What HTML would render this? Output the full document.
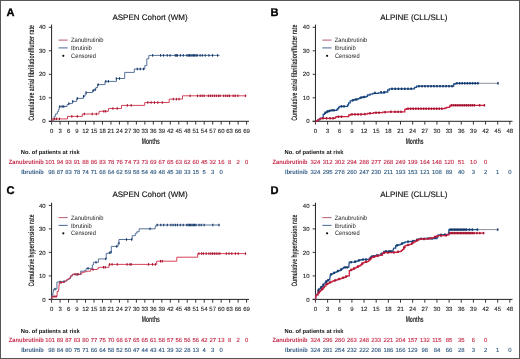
<!DOCTYPE html>
<html><head><meta charset="utf-8"><style>
html,body{margin:0;padding:0;background:#fff;}
body{position:relative;width:520px;height:359px;overflow:hidden;}
.bd{position:absolute;left:0;top:0;width:520px;height:359px;box-sizing:border-box;border:1px solid #575757;}
svg{display:block;font-family:"Liberation Sans", sans-serif;will-change:transform;filter:blur(0.3px);text-rendering:geometricPrecision;}
</style></head><body>
<svg width="520" height="359" viewBox="0 0 520 359">
<rect x="0" y="0" width="520" height="359" fill="#fff"/>
<text x="6.6" y="15.8" font-size="11.1" font-weight="bold" fill="#000" stroke="#000" stroke-width="0.3">A</text>
<text x="150" y="19.9" font-size="8.0" text-anchor="middle" fill="#111" stroke="#111" stroke-width="0.15">ASPEN Cohort (WM)</text>
<line x1="51.6" y1="121.8" x2="51.6" y2="24.6" stroke="#222" stroke-width="1"/>
<line x1="48.8" y1="121.3" x2="249" y2="121.3" stroke="#222" stroke-width="1"/>
<line x1="48.8" y1="121.3" x2="51.6" y2="121.3" stroke="#222" stroke-width="0.9"/>
<text x="45.7" y="123.4" font-size="6.0" text-anchor="end" fill="#222" stroke="#222" stroke-width="0.1">0</text>
<line x1="48.8" y1="97.8" x2="51.6" y2="97.8" stroke="#222" stroke-width="0.9"/>
<text x="45.7" y="99.9" font-size="6.0" text-anchor="end" fill="#222" stroke="#222" stroke-width="0.1">10</text>
<line x1="48.8" y1="74.3" x2="51.6" y2="74.3" stroke="#222" stroke-width="0.9"/>
<text x="45.7" y="76.4" font-size="6.0" text-anchor="end" fill="#222" stroke="#222" stroke-width="0.1">20</text>
<line x1="48.8" y1="50.8" x2="51.6" y2="50.8" stroke="#222" stroke-width="0.9"/>
<text x="45.7" y="52.9" font-size="6.0" text-anchor="end" fill="#222" stroke="#222" stroke-width="0.1">30</text>
<line x1="48.8" y1="27.3" x2="51.6" y2="27.3" stroke="#222" stroke-width="0.9"/>
<text x="45.7" y="29.4" font-size="6.0" text-anchor="end" fill="#222" stroke="#222" stroke-width="0.1">40</text>
<line x1="51.6" y1="121.3" x2="51.6" y2="124.6" stroke="#222" stroke-width="0.9"/>
<text x="51.6" y="132.55" font-size="6.0" text-anchor="middle" fill="#222" stroke="#222" stroke-width="0.1">0</text>
<line x1="60.08" y1="121.3" x2="60.08" y2="124.6" stroke="#222" stroke-width="0.9"/>
<text x="60.08" y="132.55" font-size="6.0" text-anchor="middle" fill="#222" stroke="#222" stroke-width="0.1">3</text>
<line x1="68.56" y1="121.3" x2="68.56" y2="124.6" stroke="#222" stroke-width="0.9"/>
<text x="68.56" y="132.55" font-size="6.0" text-anchor="middle" fill="#222" stroke="#222" stroke-width="0.1">6</text>
<line x1="77.03" y1="121.3" x2="77.03" y2="124.6" stroke="#222" stroke-width="0.9"/>
<text x="77.03" y="132.55" font-size="6.0" text-anchor="middle" fill="#222" stroke="#222" stroke-width="0.1">9</text>
<line x1="85.51" y1="121.3" x2="85.51" y2="124.6" stroke="#222" stroke-width="0.9"/>
<text x="85.51" y="132.55" font-size="6.0" text-anchor="middle" fill="#222" stroke="#222" stroke-width="0.1">12</text>
<line x1="93.99" y1="121.3" x2="93.99" y2="124.6" stroke="#222" stroke-width="0.9"/>
<text x="93.99" y="132.55" font-size="6.0" text-anchor="middle" fill="#222" stroke="#222" stroke-width="0.1">15</text>
<line x1="102.47" y1="121.3" x2="102.47" y2="124.6" stroke="#222" stroke-width="0.9"/>
<text x="102.47" y="132.55" font-size="6.0" text-anchor="middle" fill="#222" stroke="#222" stroke-width="0.1">18</text>
<line x1="110.95" y1="121.3" x2="110.95" y2="124.6" stroke="#222" stroke-width="0.9"/>
<text x="110.95" y="132.55" font-size="6.0" text-anchor="middle" fill="#222" stroke="#222" stroke-width="0.1">21</text>
<line x1="119.43" y1="121.3" x2="119.43" y2="124.6" stroke="#222" stroke-width="0.9"/>
<text x="119.43" y="132.55" font-size="6.0" text-anchor="middle" fill="#222" stroke="#222" stroke-width="0.1">24</text>
<line x1="127.9" y1="121.3" x2="127.9" y2="124.6" stroke="#222" stroke-width="0.9"/>
<text x="127.9" y="132.55" font-size="6.0" text-anchor="middle" fill="#222" stroke="#222" stroke-width="0.1">27</text>
<line x1="136.38" y1="121.3" x2="136.38" y2="124.6" stroke="#222" stroke-width="0.9"/>
<text x="136.38" y="132.55" font-size="6.0" text-anchor="middle" fill="#222" stroke="#222" stroke-width="0.1">30</text>
<line x1="144.86" y1="121.3" x2="144.86" y2="124.6" stroke="#222" stroke-width="0.9"/>
<text x="144.86" y="132.55" font-size="6.0" text-anchor="middle" fill="#222" stroke="#222" stroke-width="0.1">33</text>
<line x1="153.34" y1="121.3" x2="153.34" y2="124.6" stroke="#222" stroke-width="0.9"/>
<text x="153.34" y="132.55" font-size="6.0" text-anchor="middle" fill="#222" stroke="#222" stroke-width="0.1">36</text>
<line x1="161.82" y1="121.3" x2="161.82" y2="124.6" stroke="#222" stroke-width="0.9"/>
<text x="161.82" y="132.55" font-size="6.0" text-anchor="middle" fill="#222" stroke="#222" stroke-width="0.1">39</text>
<line x1="170.3" y1="121.3" x2="170.3" y2="124.6" stroke="#222" stroke-width="0.9"/>
<text x="170.3" y="132.55" font-size="6.0" text-anchor="middle" fill="#222" stroke="#222" stroke-width="0.1">42</text>
<line x1="178.77" y1="121.3" x2="178.77" y2="124.6" stroke="#222" stroke-width="0.9"/>
<text x="178.77" y="132.55" font-size="6.0" text-anchor="middle" fill="#222" stroke="#222" stroke-width="0.1">45</text>
<line x1="187.25" y1="121.3" x2="187.25" y2="124.6" stroke="#222" stroke-width="0.9"/>
<text x="187.25" y="132.55" font-size="6.0" text-anchor="middle" fill="#222" stroke="#222" stroke-width="0.1">48</text>
<line x1="195.73" y1="121.3" x2="195.73" y2="124.6" stroke="#222" stroke-width="0.9"/>
<text x="195.73" y="132.55" font-size="6.0" text-anchor="middle" fill="#222" stroke="#222" stroke-width="0.1">51</text>
<line x1="204.21" y1="121.3" x2="204.21" y2="124.6" stroke="#222" stroke-width="0.9"/>
<text x="204.21" y="132.55" font-size="6.0" text-anchor="middle" fill="#222" stroke="#222" stroke-width="0.1">54</text>
<line x1="212.69" y1="121.3" x2="212.69" y2="124.6" stroke="#222" stroke-width="0.9"/>
<text x="212.69" y="132.55" font-size="6.0" text-anchor="middle" fill="#222" stroke="#222" stroke-width="0.1">57</text>
<line x1="221.17" y1="121.3" x2="221.17" y2="124.6" stroke="#222" stroke-width="0.9"/>
<text x="221.17" y="132.55" font-size="6.0" text-anchor="middle" fill="#222" stroke="#222" stroke-width="0.1">60</text>
<line x1="229.64" y1="121.3" x2="229.64" y2="124.6" stroke="#222" stroke-width="0.9"/>
<text x="229.64" y="132.55" font-size="6.0" text-anchor="middle" fill="#222" stroke="#222" stroke-width="0.1">63</text>
<line x1="238.12" y1="121.3" x2="238.12" y2="124.6" stroke="#222" stroke-width="0.9"/>
<text x="238.12" y="132.55" font-size="6.0" text-anchor="middle" fill="#222" stroke="#222" stroke-width="0.1">66</text>
<line x1="246.6" y1="121.3" x2="246.6" y2="124.6" stroke="#222" stroke-width="0.9"/>
<text x="246.6" y="132.55" font-size="6.0" text-anchor="middle" fill="#222" stroke="#222" stroke-width="0.1">69</text>
<text transform="translate(150.8,143.8) scale(0.615,1)" font-size="8.2" font-weight="bold" text-anchor="middle" fill="#222">Months</text>
<text transform="translate(33.5,72.85) rotate(-90)" font-size="8.0" font-weight="bold" text-anchor="middle" textLength="95.7" lengthAdjust="spacingAndGlyphs" fill="#222">Cumulative atrial fibrillation/flutter rate</text>
<line x1="58.5" y1="40.1" x2="67.7" y2="40.1" stroke="#bd6a7a" stroke-width="1.1"/>
<line x1="58.5" y1="47.9" x2="67.7" y2="47.9" stroke="#5a74a0" stroke-width="1.1"/>
<circle cx="63.3" cy="55.8" r="1.1" fill="#111"/>
<text x="70.9" y="42.3" font-size="6.3" textLength="32.6" lengthAdjust="spacingAndGlyphs" fill="#222">Zanubrutinib</text>
<text x="70.9" y="50.1" font-size="6.3" textLength="21" lengthAdjust="spacingAndGlyphs" fill="#222">Ibrutinib</text>
<text x="71.1" y="57.9" font-size="6.3" textLength="24.8" lengthAdjust="spacingAndGlyphs" fill="#222">Censored</text>
<text x="20.75" y="154.4" font-size="5.8" font-weight="bold" fill="#111">No. of patients at risk</text>
<text x="8.8" y="163.6" font-size="6.2" font-weight="bold" textLength="35" lengthAdjust="spacingAndGlyphs" fill="#c42846">Zanubrutinib</text>
<text x="21.3" y="173.5" font-size="6.2" font-weight="bold" textLength="22.5" lengthAdjust="spacingAndGlyphs" fill="#2d5880">Ibrutinib</text>
<text x="50.1" y="163.6" font-size="5.9" text-anchor="middle" fill="#c42846" stroke="#c42846" stroke-width="0.12">101</text>
<text x="60.08" y="163.6" font-size="5.9" text-anchor="middle" fill="#c42846" stroke="#c42846" stroke-width="0.12">94</text>
<text x="68.56" y="163.6" font-size="5.9" text-anchor="middle" fill="#c42846" stroke="#c42846" stroke-width="0.12">93</text>
<text x="77.03" y="163.6" font-size="5.9" text-anchor="middle" fill="#c42846" stroke="#c42846" stroke-width="0.12">91</text>
<text x="85.51" y="163.6" font-size="5.9" text-anchor="middle" fill="#c42846" stroke="#c42846" stroke-width="0.12">88</text>
<text x="93.99" y="163.6" font-size="5.9" text-anchor="middle" fill="#c42846" stroke="#c42846" stroke-width="0.12">86</text>
<text x="102.47" y="163.6" font-size="5.9" text-anchor="middle" fill="#c42846" stroke="#c42846" stroke-width="0.12">83</text>
<text x="110.95" y="163.6" font-size="5.9" text-anchor="middle" fill="#c42846" stroke="#c42846" stroke-width="0.12">78</text>
<text x="119.43" y="163.6" font-size="5.9" text-anchor="middle" fill="#c42846" stroke="#c42846" stroke-width="0.12">76</text>
<text x="127.9" y="163.6" font-size="5.9" text-anchor="middle" fill="#c42846" stroke="#c42846" stroke-width="0.12">74</text>
<text x="136.38" y="163.6" font-size="5.9" text-anchor="middle" fill="#c42846" stroke="#c42846" stroke-width="0.12">73</text>
<text x="144.86" y="163.6" font-size="5.9" text-anchor="middle" fill="#c42846" stroke="#c42846" stroke-width="0.12">73</text>
<text x="153.34" y="163.6" font-size="5.9" text-anchor="middle" fill="#c42846" stroke="#c42846" stroke-width="0.12">69</text>
<text x="161.82" y="163.6" font-size="5.9" text-anchor="middle" fill="#c42846" stroke="#c42846" stroke-width="0.12">67</text>
<text x="170.3" y="163.6" font-size="5.9" text-anchor="middle" fill="#c42846" stroke="#c42846" stroke-width="0.12">65</text>
<text x="178.77" y="163.6" font-size="5.9" text-anchor="middle" fill="#c42846" stroke="#c42846" stroke-width="0.12">63</text>
<text x="187.25" y="163.6" font-size="5.9" text-anchor="middle" fill="#c42846" stroke="#c42846" stroke-width="0.12">62</text>
<text x="195.73" y="163.6" font-size="5.9" text-anchor="middle" fill="#c42846" stroke="#c42846" stroke-width="0.12">60</text>
<text x="204.21" y="163.6" font-size="5.9" text-anchor="middle" fill="#c42846" stroke="#c42846" stroke-width="0.12">45</text>
<text x="212.69" y="163.6" font-size="5.9" text-anchor="middle" fill="#c42846" stroke="#c42846" stroke-width="0.12">32</text>
<text x="221.17" y="163.6" font-size="5.9" text-anchor="middle" fill="#c42846" stroke="#c42846" stroke-width="0.12">16</text>
<text x="229.64" y="163.6" font-size="5.9" text-anchor="middle" fill="#c42846" stroke="#c42846" stroke-width="0.12">8</text>
<text x="238.12" y="163.6" font-size="5.9" text-anchor="middle" fill="#c42846" stroke="#c42846" stroke-width="0.12">2</text>
<text x="246.6" y="163.6" font-size="5.9" text-anchor="middle" fill="#c42846" stroke="#c42846" stroke-width="0.12">0</text>
<text x="51.6" y="173.5" font-size="5.9" text-anchor="middle" fill="#2d5880" stroke="#2d5880" stroke-width="0.12">98</text>
<text x="60.08" y="173.5" font-size="5.9" text-anchor="middle" fill="#2d5880" stroke="#2d5880" stroke-width="0.12">87</text>
<text x="68.56" y="173.5" font-size="5.9" text-anchor="middle" fill="#2d5880" stroke="#2d5880" stroke-width="0.12">83</text>
<text x="77.03" y="173.5" font-size="5.9" text-anchor="middle" fill="#2d5880" stroke="#2d5880" stroke-width="0.12">78</text>
<text x="85.51" y="173.5" font-size="5.9" text-anchor="middle" fill="#2d5880" stroke="#2d5880" stroke-width="0.12">74</text>
<text x="93.99" y="173.5" font-size="5.9" text-anchor="middle" fill="#2d5880" stroke="#2d5880" stroke-width="0.12">71</text>
<text x="102.47" y="173.5" font-size="5.9" text-anchor="middle" fill="#2d5880" stroke="#2d5880" stroke-width="0.12">68</text>
<text x="110.95" y="173.5" font-size="5.9" text-anchor="middle" fill="#2d5880" stroke="#2d5880" stroke-width="0.12">64</text>
<text x="119.43" y="173.5" font-size="5.9" text-anchor="middle" fill="#2d5880" stroke="#2d5880" stroke-width="0.12">62</text>
<text x="127.9" y="173.5" font-size="5.9" text-anchor="middle" fill="#2d5880" stroke="#2d5880" stroke-width="0.12">59</text>
<text x="136.38" y="173.5" font-size="5.9" text-anchor="middle" fill="#2d5880" stroke="#2d5880" stroke-width="0.12">58</text>
<text x="144.86" y="173.5" font-size="5.9" text-anchor="middle" fill="#2d5880" stroke="#2d5880" stroke-width="0.12">54</text>
<text x="153.34" y="173.5" font-size="5.9" text-anchor="middle" fill="#2d5880" stroke="#2d5880" stroke-width="0.12">49</text>
<text x="161.82" y="173.5" font-size="5.9" text-anchor="middle" fill="#2d5880" stroke="#2d5880" stroke-width="0.12">48</text>
<text x="170.3" y="173.5" font-size="5.9" text-anchor="middle" fill="#2d5880" stroke="#2d5880" stroke-width="0.12">45</text>
<text x="178.77" y="173.5" font-size="5.9" text-anchor="middle" fill="#2d5880" stroke="#2d5880" stroke-width="0.12">38</text>
<text x="187.25" y="173.5" font-size="5.9" text-anchor="middle" fill="#2d5880" stroke="#2d5880" stroke-width="0.12">33</text>
<text x="195.73" y="173.5" font-size="5.9" text-anchor="middle" fill="#2d5880" stroke="#2d5880" stroke-width="0.12">15</text>
<text x="204.21" y="173.5" font-size="5.9" text-anchor="middle" fill="#2d5880" stroke="#2d5880" stroke-width="0.12">5</text>
<text x="212.69" y="173.5" font-size="5.9" text-anchor="middle" fill="#2d5880" stroke="#2d5880" stroke-width="0.12">3</text>
<text x="221.17" y="173.5" font-size="5.9" text-anchor="middle" fill="#2d5880" stroke="#2d5880" stroke-width="0.12">0</text>
<path d="M51.6,121.3 H53.3 V118.6 H54.2 V116.2 H55.6 V113.9 H57.4 V111.6 H58.6 V109.5 H59.2 V106.5 H67 V104.7 H68.5 V103.6 H72.4 V101.4 H76.7 V98.4 H83.3 V96.3 H85 V94.2 H86.3 V92.5 H92.5 V90.5 H94.6 V89.6 H95.9 V87.5 H97.5 V84.6 H105 V81.4 H116.5 V78.5 H124.7 V72.4 H134.3 V69 H144.8 V65.6 H146.8 V58.8 H148.8 V55.4 H219.5" fill="none" stroke="#44638f" stroke-width="0.9" stroke-linejoin="miter"/>
<rect x="59.25" y="105.25" width="1.1" height="2.5" fill="#0f3566"/>
<rect x="61.55" y="105.25" width="1.1" height="2.5" fill="#0f3566"/>
<rect x="63.25" y="105.25" width="1.1" height="2.5" fill="#0f3566"/>
<rect x="68.35" y="102.35" width="1.1" height="2.5" fill="#0f3566"/>
<rect x="72.25" y="100.15" width="1.1" height="2.5" fill="#0f3566"/>
<rect x="76.85" y="97.15" width="1.1" height="2.5" fill="#0f3566"/>
<rect x="83.05" y="95.05" width="1.1" height="2.5" fill="#0f3566"/>
<rect x="85.45" y="91.25" width="1.1" height="2.5" fill="#0f3566"/>
<rect x="92.75" y="89.25" width="1.1" height="2.5" fill="#0f3566"/>
<rect x="94.65" y="88.35" width="1.1" height="2.5" fill="#0f3566"/>
<rect x="97.65" y="83.35" width="1.1" height="2.5" fill="#0f3566"/>
<rect x="105.25" y="80.15" width="1.1" height="2.5" fill="#0f3566"/>
<rect x="107.85" y="80.15" width="1.1" height="2.5" fill="#0f3566"/>
<rect x="115.75" y="77.25" width="1.1" height="2.5" fill="#0f3566"/>
<rect x="118.95" y="77.25" width="1.1" height="2.5" fill="#0f3566"/>
<rect x="136.75" y="67.75" width="1.1" height="2.5" fill="#0f3566"/>
<rect x="139.65" y="67.75" width="1.1" height="2.5" fill="#0f3566"/>
<rect x="143.05" y="67.75" width="1.1" height="2.5" fill="#0f3566"/>
<rect x="152.05" y="54.15" width="1.1" height="2.5" fill="#0f3566"/>
<rect x="160.05" y="54.15" width="1.1" height="2.5" fill="#0f3566"/>
<rect x="162.95" y="54.15" width="1.1" height="2.5" fill="#0f3566"/>
<rect x="166.65" y="54.15" width="1.1" height="2.5" fill="#0f3566"/>
<rect x="169.55" y="54.15" width="1.1" height="2.5" fill="#0f3566"/>
<rect x="174.65" y="54.15" width="1.1" height="2.5" fill="#0f3566"/>
<rect x="175.75" y="54.15" width="1.1" height="2.5" fill="#0f3566"/>
<rect x="176.85" y="54.15" width="1.1" height="2.5" fill="#0f3566"/>
<rect x="179.85" y="54.15" width="1.1" height="2.5" fill="#0f3566"/>
<rect x="182.75" y="54.15" width="1.1" height="2.5" fill="#0f3566"/>
<rect x="186.35" y="54.15" width="1.1" height="2.5" fill="#0f3566"/>
<rect x="187.65" y="54.15" width="1.1" height="2.5" fill="#0f3566"/>
<rect x="188.95" y="54.15" width="1.1" height="2.5" fill="#0f3566"/>
<rect x="190.25" y="54.15" width="1.1" height="2.5" fill="#0f3566"/>
<rect x="191.55" y="54.15" width="1.1" height="2.5" fill="#0f3566"/>
<rect x="192.85" y="54.15" width="1.1" height="2.5" fill="#0f3566"/>
<rect x="194.15" y="54.15" width="1.1" height="2.5" fill="#0f3566"/>
<rect x="195.45" y="54.15" width="1.1" height="2.5" fill="#0f3566"/>
<rect x="196.65" y="54.15" width="1.1" height="2.5" fill="#0f3566"/>
<rect x="199.55" y="54.15" width="1.1" height="2.5" fill="#0f3566"/>
<rect x="201.75" y="54.15" width="1.1" height="2.5" fill="#0f3566"/>
<rect x="204.65" y="54.15" width="1.1" height="2.5" fill="#0f3566"/>
<rect x="208.35" y="54.15" width="1.1" height="2.5" fill="#0f3566"/>
<rect x="211.95" y="54.15" width="1.1" height="2.5" fill="#0f3566"/>
<rect x="217.05" y="54.15" width="1.1" height="2.5" fill="#0f3566"/>
<path d="M51.6,121.3 H52 V118.9 H67.5 V116.4 H82.3 V114 H99 V111.3 H108.4 V108.5 H121.5 V105.4 H144.7 V102.5 H169.2 V99.1 H182.5 V95.8 H246.5" fill="none" stroke="#cf3048" stroke-width="0.9" stroke-linejoin="miter"/>
<rect x="54.15" y="117.65" width="1.1" height="2.5" fill="#a3122f"/>
<rect x="56.05" y="117.65" width="1.1" height="2.5" fill="#a3122f"/>
<rect x="58.85" y="117.65" width="1.1" height="2.5" fill="#a3122f"/>
<rect x="71.25" y="115.15" width="1.1" height="2.5" fill="#a3122f"/>
<rect x="76.75" y="115.15" width="1.1" height="2.5" fill="#a3122f"/>
<rect x="83.75" y="112.75" width="1.1" height="2.5" fill="#a3122f"/>
<rect x="91.65" y="112.75" width="1.1" height="2.5" fill="#a3122f"/>
<rect x="95.75" y="112.75" width="1.1" height="2.5" fill="#a3122f"/>
<rect x="103.25" y="110.05" width="1.1" height="2.5" fill="#a3122f"/>
<rect x="105.15" y="110.05" width="1.1" height="2.5" fill="#a3122f"/>
<rect x="112.35" y="107.25" width="1.1" height="2.5" fill="#a3122f"/>
<rect x="116.65" y="107.25" width="1.1" height="2.5" fill="#a3122f"/>
<rect x="126.75" y="104.15" width="1.1" height="2.5" fill="#a3122f"/>
<rect x="130.65" y="104.15" width="1.1" height="2.5" fill="#a3122f"/>
<rect x="147.25" y="101.25" width="1.1" height="2.5" fill="#a3122f"/>
<rect x="150.55" y="101.25" width="1.1" height="2.5" fill="#a3122f"/>
<rect x="153.95" y="101.25" width="1.1" height="2.5" fill="#a3122f"/>
<rect x="157.25" y="101.25" width="1.1" height="2.5" fill="#a3122f"/>
<rect x="161.75" y="101.25" width="1.1" height="2.5" fill="#a3122f"/>
<rect x="172.75" y="97.85" width="1.1" height="2.5" fill="#a3122f"/>
<rect x="175.85" y="97.85" width="1.1" height="2.5" fill="#a3122f"/>
<rect x="178.45" y="97.85" width="1.1" height="2.5" fill="#a3122f"/>
<rect x="189.55" y="94.55" width="1.1" height="2.5" fill="#a3122f"/>
<rect x="196.95" y="94.55" width="1.1" height="2.5" fill="#a3122f"/>
<rect x="199.65" y="94.55" width="1.1" height="2.5" fill="#a3122f"/>
<rect x="201.65" y="94.55" width="1.1" height="2.5" fill="#a3122f"/>
<rect x="203.65" y="94.55" width="1.1" height="2.5" fill="#a3122f"/>
<rect x="207.75" y="94.55" width="1.1" height="2.5" fill="#a3122f"/>
<rect x="209.75" y="94.55" width="1.1" height="2.5" fill="#a3122f"/>
<rect x="211.75" y="94.55" width="1.1" height="2.5" fill="#a3122f"/>
<rect x="213.75" y="94.55" width="1.1" height="2.5" fill="#a3122f"/>
<rect x="215.75" y="94.55" width="1.1" height="2.5" fill="#a3122f"/>
<rect x="217.85" y="94.55" width="1.1" height="2.5" fill="#a3122f"/>
<rect x="219.55" y="94.55" width="1.1" height="2.5" fill="#a3122f"/>
<rect x="223.15" y="94.55" width="1.1" height="2.5" fill="#a3122f"/>
<rect x="225.25" y="94.55" width="1.1" height="2.5" fill="#a3122f"/>
<rect x="227.25" y="94.55" width="1.1" height="2.5" fill="#a3122f"/>
<rect x="228.95" y="94.55" width="1.1" height="2.5" fill="#a3122f"/>
<rect x="232.65" y="94.55" width="1.1" height="2.5" fill="#a3122f"/>
<rect x="234.65" y="94.55" width="1.1" height="2.5" fill="#a3122f"/>
<rect x="237.35" y="94.55" width="1.1" height="2.5" fill="#a3122f"/>
<rect x="244.75" y="94.55" width="1.1" height="2.5" fill="#a3122f"/>
<text x="270.4" y="15.8" font-size="11.1" font-weight="bold" fill="#000" stroke="#000" stroke-width="0.3">B</text>
<text x="413.8" y="19.9" font-size="8.0" text-anchor="middle" fill="#111" stroke="#111" stroke-width="0.15">ALPINE (CLL/SLL)</text>
<line x1="315.45" y1="121.8" x2="315.45" y2="24.6" stroke="#222" stroke-width="1"/>
<line x1="312.65" y1="121.3" x2="512.5" y2="121.3" stroke="#222" stroke-width="1"/>
<line x1="312.65" y1="121.3" x2="315.45" y2="121.3" stroke="#222" stroke-width="0.9"/>
<text x="309.55" y="123.4" font-size="6.0" text-anchor="end" fill="#222" stroke="#222" stroke-width="0.1">0</text>
<line x1="312.65" y1="97.8" x2="315.45" y2="97.8" stroke="#222" stroke-width="0.9"/>
<text x="309.55" y="99.9" font-size="6.0" text-anchor="end" fill="#222" stroke="#222" stroke-width="0.1">10</text>
<line x1="312.65" y1="74.3" x2="315.45" y2="74.3" stroke="#222" stroke-width="0.9"/>
<text x="309.55" y="76.4" font-size="6.0" text-anchor="end" fill="#222" stroke="#222" stroke-width="0.1">20</text>
<line x1="312.65" y1="50.8" x2="315.45" y2="50.8" stroke="#222" stroke-width="0.9"/>
<text x="309.55" y="52.9" font-size="6.0" text-anchor="end" fill="#222" stroke="#222" stroke-width="0.1">30</text>
<line x1="312.65" y1="27.3" x2="315.45" y2="27.3" stroke="#222" stroke-width="0.9"/>
<text x="309.55" y="29.4" font-size="6.0" text-anchor="end" fill="#222" stroke="#222" stroke-width="0.1">40</text>
<line x1="315.45" y1="121.3" x2="315.45" y2="124.6" stroke="#222" stroke-width="0.9"/>
<text x="315.45" y="132.55" font-size="6.0" text-anchor="middle" fill="#222" stroke="#222" stroke-width="0.1">0</text>
<line x1="327.6" y1="121.3" x2="327.6" y2="124.6" stroke="#222" stroke-width="0.9"/>
<text x="327.6" y="132.55" font-size="6.0" text-anchor="middle" fill="#222" stroke="#222" stroke-width="0.1">3</text>
<line x1="339.75" y1="121.3" x2="339.75" y2="124.6" stroke="#222" stroke-width="0.9"/>
<text x="339.75" y="132.55" font-size="6.0" text-anchor="middle" fill="#222" stroke="#222" stroke-width="0.1">6</text>
<line x1="351.9" y1="121.3" x2="351.9" y2="124.6" stroke="#222" stroke-width="0.9"/>
<text x="351.9" y="132.55" font-size="6.0" text-anchor="middle" fill="#222" stroke="#222" stroke-width="0.1">9</text>
<line x1="364.05" y1="121.3" x2="364.05" y2="124.6" stroke="#222" stroke-width="0.9"/>
<text x="364.05" y="132.55" font-size="6.0" text-anchor="middle" fill="#222" stroke="#222" stroke-width="0.1">12</text>
<line x1="376.2" y1="121.3" x2="376.2" y2="124.6" stroke="#222" stroke-width="0.9"/>
<text x="376.2" y="132.55" font-size="6.0" text-anchor="middle" fill="#222" stroke="#222" stroke-width="0.1">15</text>
<line x1="388.35" y1="121.3" x2="388.35" y2="124.6" stroke="#222" stroke-width="0.9"/>
<text x="388.35" y="132.55" font-size="6.0" text-anchor="middle" fill="#222" stroke="#222" stroke-width="0.1">18</text>
<line x1="400.5" y1="121.3" x2="400.5" y2="124.6" stroke="#222" stroke-width="0.9"/>
<text x="400.5" y="132.55" font-size="6.0" text-anchor="middle" fill="#222" stroke="#222" stroke-width="0.1">21</text>
<line x1="412.65" y1="121.3" x2="412.65" y2="124.6" stroke="#222" stroke-width="0.9"/>
<text x="412.65" y="132.55" font-size="6.0" text-anchor="middle" fill="#222" stroke="#222" stroke-width="0.1">24</text>
<line x1="424.8" y1="121.3" x2="424.8" y2="124.6" stroke="#222" stroke-width="0.9"/>
<text x="424.8" y="132.55" font-size="6.0" text-anchor="middle" fill="#222" stroke="#222" stroke-width="0.1">27</text>
<line x1="436.95" y1="121.3" x2="436.95" y2="124.6" stroke="#222" stroke-width="0.9"/>
<text x="436.95" y="132.55" font-size="6.0" text-anchor="middle" fill="#222" stroke="#222" stroke-width="0.1">30</text>
<line x1="449.1" y1="121.3" x2="449.1" y2="124.6" stroke="#222" stroke-width="0.9"/>
<text x="449.1" y="132.55" font-size="6.0" text-anchor="middle" fill="#222" stroke="#222" stroke-width="0.1">33</text>
<line x1="461.25" y1="121.3" x2="461.25" y2="124.6" stroke="#222" stroke-width="0.9"/>
<text x="461.25" y="132.55" font-size="6.0" text-anchor="middle" fill="#222" stroke="#222" stroke-width="0.1">36</text>
<line x1="473.4" y1="121.3" x2="473.4" y2="124.6" stroke="#222" stroke-width="0.9"/>
<text x="473.4" y="132.55" font-size="6.0" text-anchor="middle" fill="#222" stroke="#222" stroke-width="0.1">39</text>
<line x1="485.55" y1="121.3" x2="485.55" y2="124.6" stroke="#222" stroke-width="0.9"/>
<text x="485.55" y="132.55" font-size="6.0" text-anchor="middle" fill="#222" stroke="#222" stroke-width="0.1">42</text>
<line x1="497.7" y1="121.3" x2="497.7" y2="124.6" stroke="#222" stroke-width="0.9"/>
<text x="497.7" y="132.55" font-size="6.0" text-anchor="middle" fill="#222" stroke="#222" stroke-width="0.1">45</text>
<line x1="509.85" y1="121.3" x2="509.85" y2="124.6" stroke="#222" stroke-width="0.9"/>
<text x="509.85" y="132.55" font-size="6.0" text-anchor="middle" fill="#222" stroke="#222" stroke-width="0.1">48</text>
<text transform="translate(414.6,143.8) scale(0.615,1)" font-size="8.2" font-weight="bold" text-anchor="middle" fill="#222">Months</text>
<text transform="translate(297.3,72.65) rotate(-90)" font-size="8.0" font-weight="bold" text-anchor="middle" textLength="96.1" lengthAdjust="spacingAndGlyphs" fill="#222">Cumulative atrial fibrillation/flutter rate</text>
<line x1="322.3" y1="40.1" x2="331.5" y2="40.1" stroke="#bd6a7a" stroke-width="1.1"/>
<line x1="322.3" y1="47.9" x2="331.5" y2="47.9" stroke="#5a74a0" stroke-width="1.1"/>
<circle cx="327.1" cy="55.8" r="1.1" fill="#111"/>
<text x="334.7" y="42.3" font-size="6.3" textLength="32.6" lengthAdjust="spacingAndGlyphs" fill="#222">Zanubrutinib</text>
<text x="334.7" y="50.1" font-size="6.3" textLength="21" lengthAdjust="spacingAndGlyphs" fill="#222">Ibrutinib</text>
<text x="334.9" y="57.9" font-size="6.3" textLength="24.8" lengthAdjust="spacingAndGlyphs" fill="#222">Censored</text>
<text x="284.55" y="154.4" font-size="5.8" font-weight="bold" fill="#111">No. of patients at risk</text>
<text x="272.6" y="163.6" font-size="6.2" font-weight="bold" textLength="35" lengthAdjust="spacingAndGlyphs" fill="#c42846">Zanubrutinib</text>
<text x="285.1" y="173.5" font-size="6.2" font-weight="bold" textLength="22.5" lengthAdjust="spacingAndGlyphs" fill="#2d5880">Ibrutinib</text>
<text x="315.45" y="163.6" font-size="5.9" text-anchor="middle" fill="#c42846" stroke="#c42846" stroke-width="0.12">324</text>
<text x="327.6" y="163.6" font-size="5.9" text-anchor="middle" fill="#c42846" stroke="#c42846" stroke-width="0.12">312</text>
<text x="339.75" y="163.6" font-size="5.9" text-anchor="middle" fill="#c42846" stroke="#c42846" stroke-width="0.12">302</text>
<text x="351.9" y="163.6" font-size="5.9" text-anchor="middle" fill="#c42846" stroke="#c42846" stroke-width="0.12">294</text>
<text x="364.05" y="163.6" font-size="5.9" text-anchor="middle" fill="#c42846" stroke="#c42846" stroke-width="0.12">288</text>
<text x="376.2" y="163.6" font-size="5.9" text-anchor="middle" fill="#c42846" stroke="#c42846" stroke-width="0.12">277</text>
<text x="388.35" y="163.6" font-size="5.9" text-anchor="middle" fill="#c42846" stroke="#c42846" stroke-width="0.12">268</text>
<text x="400.5" y="163.6" font-size="5.9" text-anchor="middle" fill="#c42846" stroke="#c42846" stroke-width="0.12">249</text>
<text x="412.65" y="163.6" font-size="5.9" text-anchor="middle" fill="#c42846" stroke="#c42846" stroke-width="0.12">199</text>
<text x="424.8" y="163.6" font-size="5.9" text-anchor="middle" fill="#c42846" stroke="#c42846" stroke-width="0.12">164</text>
<text x="436.95" y="163.6" font-size="5.9" text-anchor="middle" fill="#c42846" stroke="#c42846" stroke-width="0.12">148</text>
<text x="449.1" y="163.6" font-size="5.9" text-anchor="middle" fill="#c42846" stroke="#c42846" stroke-width="0.12">120</text>
<text x="461.25" y="163.6" font-size="5.9" text-anchor="middle" fill="#c42846" stroke="#c42846" stroke-width="0.12">51</text>
<text x="473.4" y="163.6" font-size="5.9" text-anchor="middle" fill="#c42846" stroke="#c42846" stroke-width="0.12">10</text>
<text x="485.55" y="163.6" font-size="5.9" text-anchor="middle" fill="#c42846" stroke="#c42846" stroke-width="0.12">0</text>
<text x="315.45" y="173.5" font-size="5.9" text-anchor="middle" fill="#2d5880" stroke="#2d5880" stroke-width="0.12">324</text>
<text x="327.6" y="173.5" font-size="5.9" text-anchor="middle" fill="#2d5880" stroke="#2d5880" stroke-width="0.12">295</text>
<text x="339.75" y="173.5" font-size="5.9" text-anchor="middle" fill="#2d5880" stroke="#2d5880" stroke-width="0.12">278</text>
<text x="351.9" y="173.5" font-size="5.9" text-anchor="middle" fill="#2d5880" stroke="#2d5880" stroke-width="0.12">260</text>
<text x="364.05" y="173.5" font-size="5.9" text-anchor="middle" fill="#2d5880" stroke="#2d5880" stroke-width="0.12">247</text>
<text x="376.2" y="173.5" font-size="5.9" text-anchor="middle" fill="#2d5880" stroke="#2d5880" stroke-width="0.12">230</text>
<text x="388.35" y="173.5" font-size="5.9" text-anchor="middle" fill="#2d5880" stroke="#2d5880" stroke-width="0.12">211</text>
<text x="400.5" y="173.5" font-size="5.9" text-anchor="middle" fill="#2d5880" stroke="#2d5880" stroke-width="0.12">193</text>
<text x="412.65" y="173.5" font-size="5.9" text-anchor="middle" fill="#2d5880" stroke="#2d5880" stroke-width="0.12">153</text>
<text x="424.8" y="173.5" font-size="5.9" text-anchor="middle" fill="#2d5880" stroke="#2d5880" stroke-width="0.12">121</text>
<text x="436.95" y="173.5" font-size="5.9" text-anchor="middle" fill="#2d5880" stroke="#2d5880" stroke-width="0.12">108</text>
<text x="449.1" y="173.5" font-size="5.9" text-anchor="middle" fill="#2d5880" stroke="#2d5880" stroke-width="0.12">89</text>
<text x="461.25" y="173.5" font-size="5.9" text-anchor="middle" fill="#2d5880" stroke="#2d5880" stroke-width="0.12">40</text>
<text x="473.4" y="173.5" font-size="5.9" text-anchor="middle" fill="#2d5880" stroke="#2d5880" stroke-width="0.12">3</text>
<text x="485.55" y="173.5" font-size="5.9" text-anchor="middle" fill="#2d5880" stroke="#2d5880" stroke-width="0.12">2</text>
<text x="497.7" y="173.5" font-size="5.9" text-anchor="middle" fill="#2d5880" stroke="#2d5880" stroke-width="0.12">1</text>
<text x="509.85" y="173.5" font-size="5.9" text-anchor="middle" fill="#2d5880" stroke="#2d5880" stroke-width="0.12">0</text>
<path d="M315.6,121.3 H316.5 V120.6 H317.8 V119.8 H319.2 V119 H320.4 V118.2 H323.2 V114.3 H324.5 V113.4 H325.5 V112.7 H326.8 V111.5 H328.5 V110.9 H330.5 V110.3 H336.8 V109.5 H337.7 V108.5 H338.7 V107.1 H339.8 V106.4 H347.6 V104.8 H348.6 V102.8 H350.2 V100.9 H352.1 V100.2 H354.7 V99.5 H357.9 V98.6 H359.8 V97.6 H362.4 V97 H366.2 V96.3 H367.5 V95 H370 V94.2 H372.8 V93.3 H378.4 V92.9 H384.6 V92 H387.7 V90 H389.3 V88.8 H414.5 V87.3 H416.6 V86.2 H453.7 V84 H455.4 V83.3 H479.4" fill="none" stroke="#1f4f8a" stroke-width="1.3" stroke-linejoin="miter"/>
<line x1="479.4" y1="83.3" x2="498" y2="83.3" stroke="#7d8590" stroke-width="0.9"/>
<rect x="324.45" y="111.5" width="1.5" height="2.4" fill="#0f3566"/>
<rect x="326.75" y="110.3" width="1.5" height="2.4" fill="#0f3566"/>
<rect x="328.75" y="109.7" width="1.5" height="2.4" fill="#0f3566"/>
<rect x="331.25" y="109.1" width="1.5" height="2.4" fill="#0f3566"/>
<rect x="333.25" y="109.1" width="1.5" height="2.4" fill="#0f3566"/>
<rect x="340.75" y="105.2" width="1.5" height="2.4" fill="#0f3566"/>
<rect x="343.25" y="105.2" width="1.5" height="2.4" fill="#0f3566"/>
<rect x="352.25" y="99" width="1.5" height="2.4" fill="#0f3566"/>
<rect x="355.25" y="98.3" width="1.5" height="2.4" fill="#0f3566"/>
<rect x="360.25" y="96.4" width="1.5" height="2.4" fill="#0f3566"/>
<rect x="363.25" y="95.8" width="1.5" height="2.4" fill="#0f3566"/>
<rect x="374.25" y="91.7" width="1.5" height="2.4" fill="#0f3566"/>
<rect x="380.25" y="91" width="1.5" height="2.4" fill="#0f3566"/>
<rect x="383.25" y="91" width="1.5" height="2.4" fill="#0f3566"/>
<rect x="391.25" y="87.6" width="1.5" height="2.4" fill="#0f3566"/>
<rect x="394.45" y="87.6" width="1.5" height="2.4" fill="#0f3566"/>
<rect x="397.65" y="87.6" width="1.5" height="2.4" fill="#0f3566"/>
<rect x="400.85" y="87.6" width="1.5" height="2.4" fill="#0f3566"/>
<rect x="404.05" y="87.6" width="1.5" height="2.4" fill="#0f3566"/>
<rect x="407.25" y="87.6" width="1.5" height="2.4" fill="#0f3566"/>
<rect x="410.45" y="87.6" width="1.5" height="2.4" fill="#0f3566"/>
<rect x="418.25" y="85" width="1.5" height="2.4" fill="#0f3566"/>
<rect x="421.25" y="85" width="1.5" height="2.4" fill="#0f3566"/>
<rect x="424.25" y="85" width="1.5" height="2.4" fill="#0f3566"/>
<rect x="427.25" y="85" width="1.5" height="2.4" fill="#0f3566"/>
<rect x="430.25" y="85" width="1.5" height="2.4" fill="#0f3566"/>
<rect x="433.25" y="85" width="1.5" height="2.4" fill="#0f3566"/>
<rect x="436.25" y="85" width="1.5" height="2.4" fill="#0f3566"/>
<rect x="439.25" y="85" width="1.5" height="2.4" fill="#0f3566"/>
<rect x="442.25" y="85" width="1.5" height="2.4" fill="#0f3566"/>
<rect x="445.25" y="85" width="1.5" height="2.4" fill="#0f3566"/>
<rect x="448.25" y="85" width="1.5" height="2.4" fill="#0f3566"/>
<rect x="451.25" y="85" width="1.5" height="2.4" fill="#0f3566"/>
<rect x="456.25" y="82.1" width="1.5" height="2.4" fill="#0f3566"/>
<rect x="458.85" y="82.1" width="1.5" height="2.4" fill="#0f3566"/>
<rect x="461.45" y="82.1" width="1.5" height="2.4" fill="#0f3566"/>
<rect x="464.05" y="82.1" width="1.5" height="2.4" fill="#0f3566"/>
<rect x="466.65" y="82.1" width="1.5" height="2.4" fill="#0f3566"/>
<rect x="469.25" y="82.1" width="1.5" height="2.4" fill="#0f3566"/>
<rect x="471.85" y="82.1" width="1.5" height="2.4" fill="#0f3566"/>
<rect x="474.45" y="82.1" width="1.5" height="2.4" fill="#0f3566"/>
<rect x="477.05" y="82.1" width="1.5" height="2.4" fill="#0f3566"/>
<rect x="497.25" y="82.1" width="1.5" height="2.4" fill="#0f3566"/>
<path d="M315.6,121.3 H316.5 V120.6 H317.8 V119.9 H319.8 V118.8 H321 V118.3 H335.2 V117.3 H336.1 V116.7 H348.7 V115 H350.4 V114.4 H363.1 V114.1 H367.7 V113.3 H373.5 V112.7 H382.7 V112.1 H388 V111.8 H404.8 V109.3 H406.2 V108.7 H444.9 V108 H446.6 V107.4 H449.6 V106.3 H450.1 V105.3 H484.8" fill="none" stroke="#cc2240" stroke-width="1.3" stroke-linejoin="miter"/>
<rect x="322.25" y="117.1" width="1.5" height="2.4" fill="#a3122f"/>
<rect x="325.75" y="117.1" width="1.5" height="2.4" fill="#a3122f"/>
<rect x="329.25" y="117.1" width="1.5" height="2.4" fill="#a3122f"/>
<rect x="332.25" y="117.1" width="1.5" height="2.4" fill="#a3122f"/>
<rect x="337.75" y="115.5" width="1.5" height="2.4" fill="#a3122f"/>
<rect x="340.75" y="115.5" width="1.5" height="2.4" fill="#a3122f"/>
<rect x="351.25" y="113.2" width="1.5" height="2.4" fill="#a3122f"/>
<rect x="354.25" y="113.2" width="1.5" height="2.4" fill="#a3122f"/>
<rect x="357.25" y="113.2" width="1.5" height="2.4" fill="#a3122f"/>
<rect x="360.25" y="113.2" width="1.5" height="2.4" fill="#a3122f"/>
<rect x="364.25" y="112.9" width="1.5" height="2.4" fill="#a3122f"/>
<rect x="369.25" y="112.1" width="1.5" height="2.4" fill="#a3122f"/>
<rect x="375.25" y="111.5" width="1.5" height="2.4" fill="#a3122f"/>
<rect x="378.25" y="111.5" width="1.5" height="2.4" fill="#a3122f"/>
<rect x="384.25" y="110.9" width="1.5" height="2.4" fill="#a3122f"/>
<rect x="390.25" y="110.6" width="1.5" height="2.4" fill="#a3122f"/>
<rect x="394.25" y="110.6" width="1.5" height="2.4" fill="#a3122f"/>
<rect x="397.25" y="110.6" width="1.5" height="2.4" fill="#a3122f"/>
<rect x="400.25" y="110.6" width="1.5" height="2.4" fill="#a3122f"/>
<rect x="407.25" y="107.5" width="1.5" height="2.4" fill="#a3122f"/>
<rect x="409.85" y="107.5" width="1.5" height="2.4" fill="#a3122f"/>
<rect x="412.45" y="107.5" width="1.5" height="2.4" fill="#a3122f"/>
<rect x="415.05" y="107.5" width="1.5" height="2.4" fill="#a3122f"/>
<rect x="417.65" y="107.5" width="1.5" height="2.4" fill="#a3122f"/>
<rect x="420.25" y="107.5" width="1.5" height="2.4" fill="#a3122f"/>
<rect x="422.85" y="107.5" width="1.5" height="2.4" fill="#a3122f"/>
<rect x="425.45" y="107.5" width="1.5" height="2.4" fill="#a3122f"/>
<rect x="428.05" y="107.5" width="1.5" height="2.4" fill="#a3122f"/>
<rect x="430.65" y="107.5" width="1.5" height="2.4" fill="#a3122f"/>
<rect x="433.25" y="107.5" width="1.5" height="2.4" fill="#a3122f"/>
<rect x="435.85" y="107.5" width="1.5" height="2.4" fill="#a3122f"/>
<rect x="438.45" y="107.5" width="1.5" height="2.4" fill="#a3122f"/>
<rect x="441.05" y="107.5" width="1.5" height="2.4" fill="#a3122f"/>
<rect x="450.75" y="104.1" width="1.5" height="2.4" fill="#a3122f"/>
<rect x="452.65" y="104.1" width="1.5" height="2.4" fill="#a3122f"/>
<rect x="454.55" y="104.1" width="1.5" height="2.4" fill="#a3122f"/>
<rect x="456.45" y="104.1" width="1.5" height="2.4" fill="#a3122f"/>
<rect x="458.35" y="104.1" width="1.5" height="2.4" fill="#a3122f"/>
<rect x="460.25" y="104.1" width="1.5" height="2.4" fill="#a3122f"/>
<rect x="462.15" y="104.1" width="1.5" height="2.4" fill="#a3122f"/>
<rect x="464.05" y="104.1" width="1.5" height="2.4" fill="#a3122f"/>
<rect x="465.95" y="104.1" width="1.5" height="2.4" fill="#a3122f"/>
<rect x="467.85" y="104.1" width="1.5" height="2.4" fill="#a3122f"/>
<rect x="469.75" y="104.1" width="1.5" height="2.4" fill="#a3122f"/>
<rect x="471.65" y="104.1" width="1.5" height="2.4" fill="#a3122f"/>
<rect x="473.55" y="104.1" width="1.5" height="2.4" fill="#a3122f"/>
<rect x="478.85" y="104.1" width="1.5" height="2.4" fill="#a3122f"/>
<rect x="483.65" y="104.1" width="1.5" height="2.4" fill="#a3122f"/>
<text x="6.6" y="193.9" font-size="11.1" font-weight="bold" fill="#000" stroke="#000" stroke-width="0.3">C</text>
<text x="150" y="197.4" font-size="8.0" text-anchor="middle" fill="#111" stroke="#111" stroke-width="0.15">ASPEN Cohort (WM)</text>
<line x1="51.6" y1="299.9" x2="51.6" y2="202.7" stroke="#222" stroke-width="1"/>
<line x1="48.8" y1="299.4" x2="249" y2="299.4" stroke="#222" stroke-width="1"/>
<line x1="48.8" y1="299.4" x2="51.6" y2="299.4" stroke="#222" stroke-width="0.9"/>
<text x="45.7" y="301.5" font-size="6.0" text-anchor="end" fill="#222" stroke="#222" stroke-width="0.1">0</text>
<line x1="48.8" y1="275.9" x2="51.6" y2="275.9" stroke="#222" stroke-width="0.9"/>
<text x="45.7" y="278" font-size="6.0" text-anchor="end" fill="#222" stroke="#222" stroke-width="0.1">10</text>
<line x1="48.8" y1="252.4" x2="51.6" y2="252.4" stroke="#222" stroke-width="0.9"/>
<text x="45.7" y="254.5" font-size="6.0" text-anchor="end" fill="#222" stroke="#222" stroke-width="0.1">20</text>
<line x1="48.8" y1="228.9" x2="51.6" y2="228.9" stroke="#222" stroke-width="0.9"/>
<text x="45.7" y="231" font-size="6.0" text-anchor="end" fill="#222" stroke="#222" stroke-width="0.1">30</text>
<line x1="48.8" y1="205.4" x2="51.6" y2="205.4" stroke="#222" stroke-width="0.9"/>
<text x="45.7" y="207.5" font-size="6.0" text-anchor="end" fill="#222" stroke="#222" stroke-width="0.1">40</text>
<line x1="51.6" y1="299.4" x2="51.6" y2="302.7" stroke="#222" stroke-width="0.9"/>
<text x="51.6" y="310.65" font-size="6.0" text-anchor="middle" fill="#222" stroke="#222" stroke-width="0.1">0</text>
<line x1="60.08" y1="299.4" x2="60.08" y2="302.7" stroke="#222" stroke-width="0.9"/>
<text x="60.08" y="310.65" font-size="6.0" text-anchor="middle" fill="#222" stroke="#222" stroke-width="0.1">3</text>
<line x1="68.56" y1="299.4" x2="68.56" y2="302.7" stroke="#222" stroke-width="0.9"/>
<text x="68.56" y="310.65" font-size="6.0" text-anchor="middle" fill="#222" stroke="#222" stroke-width="0.1">6</text>
<line x1="77.03" y1="299.4" x2="77.03" y2="302.7" stroke="#222" stroke-width="0.9"/>
<text x="77.03" y="310.65" font-size="6.0" text-anchor="middle" fill="#222" stroke="#222" stroke-width="0.1">9</text>
<line x1="85.51" y1="299.4" x2="85.51" y2="302.7" stroke="#222" stroke-width="0.9"/>
<text x="85.51" y="310.65" font-size="6.0" text-anchor="middle" fill="#222" stroke="#222" stroke-width="0.1">12</text>
<line x1="93.99" y1="299.4" x2="93.99" y2="302.7" stroke="#222" stroke-width="0.9"/>
<text x="93.99" y="310.65" font-size="6.0" text-anchor="middle" fill="#222" stroke="#222" stroke-width="0.1">15</text>
<line x1="102.47" y1="299.4" x2="102.47" y2="302.7" stroke="#222" stroke-width="0.9"/>
<text x="102.47" y="310.65" font-size="6.0" text-anchor="middle" fill="#222" stroke="#222" stroke-width="0.1">18</text>
<line x1="110.95" y1="299.4" x2="110.95" y2="302.7" stroke="#222" stroke-width="0.9"/>
<text x="110.95" y="310.65" font-size="6.0" text-anchor="middle" fill="#222" stroke="#222" stroke-width="0.1">21</text>
<line x1="119.43" y1="299.4" x2="119.43" y2="302.7" stroke="#222" stroke-width="0.9"/>
<text x="119.43" y="310.65" font-size="6.0" text-anchor="middle" fill="#222" stroke="#222" stroke-width="0.1">24</text>
<line x1="127.9" y1="299.4" x2="127.9" y2="302.7" stroke="#222" stroke-width="0.9"/>
<text x="127.9" y="310.65" font-size="6.0" text-anchor="middle" fill="#222" stroke="#222" stroke-width="0.1">27</text>
<line x1="136.38" y1="299.4" x2="136.38" y2="302.7" stroke="#222" stroke-width="0.9"/>
<text x="136.38" y="310.65" font-size="6.0" text-anchor="middle" fill="#222" stroke="#222" stroke-width="0.1">30</text>
<line x1="144.86" y1="299.4" x2="144.86" y2="302.7" stroke="#222" stroke-width="0.9"/>
<text x="144.86" y="310.65" font-size="6.0" text-anchor="middle" fill="#222" stroke="#222" stroke-width="0.1">33</text>
<line x1="153.34" y1="299.4" x2="153.34" y2="302.7" stroke="#222" stroke-width="0.9"/>
<text x="153.34" y="310.65" font-size="6.0" text-anchor="middle" fill="#222" stroke="#222" stroke-width="0.1">36</text>
<line x1="161.82" y1="299.4" x2="161.82" y2="302.7" stroke="#222" stroke-width="0.9"/>
<text x="161.82" y="310.65" font-size="6.0" text-anchor="middle" fill="#222" stroke="#222" stroke-width="0.1">39</text>
<line x1="170.3" y1="299.4" x2="170.3" y2="302.7" stroke="#222" stroke-width="0.9"/>
<text x="170.3" y="310.65" font-size="6.0" text-anchor="middle" fill="#222" stroke="#222" stroke-width="0.1">42</text>
<line x1="178.77" y1="299.4" x2="178.77" y2="302.7" stroke="#222" stroke-width="0.9"/>
<text x="178.77" y="310.65" font-size="6.0" text-anchor="middle" fill="#222" stroke="#222" stroke-width="0.1">45</text>
<line x1="187.25" y1="299.4" x2="187.25" y2="302.7" stroke="#222" stroke-width="0.9"/>
<text x="187.25" y="310.65" font-size="6.0" text-anchor="middle" fill="#222" stroke="#222" stroke-width="0.1">48</text>
<line x1="195.73" y1="299.4" x2="195.73" y2="302.7" stroke="#222" stroke-width="0.9"/>
<text x="195.73" y="310.65" font-size="6.0" text-anchor="middle" fill="#222" stroke="#222" stroke-width="0.1">51</text>
<line x1="204.21" y1="299.4" x2="204.21" y2="302.7" stroke="#222" stroke-width="0.9"/>
<text x="204.21" y="310.65" font-size="6.0" text-anchor="middle" fill="#222" stroke="#222" stroke-width="0.1">54</text>
<line x1="212.69" y1="299.4" x2="212.69" y2="302.7" stroke="#222" stroke-width="0.9"/>
<text x="212.69" y="310.65" font-size="6.0" text-anchor="middle" fill="#222" stroke="#222" stroke-width="0.1">57</text>
<line x1="221.17" y1="299.4" x2="221.17" y2="302.7" stroke="#222" stroke-width="0.9"/>
<text x="221.17" y="310.65" font-size="6.0" text-anchor="middle" fill="#222" stroke="#222" stroke-width="0.1">60</text>
<line x1="229.64" y1="299.4" x2="229.64" y2="302.7" stroke="#222" stroke-width="0.9"/>
<text x="229.64" y="310.65" font-size="6.0" text-anchor="middle" fill="#222" stroke="#222" stroke-width="0.1">63</text>
<line x1="238.12" y1="299.4" x2="238.12" y2="302.7" stroke="#222" stroke-width="0.9"/>
<text x="238.12" y="310.65" font-size="6.0" text-anchor="middle" fill="#222" stroke="#222" stroke-width="0.1">66</text>
<line x1="246.6" y1="299.4" x2="246.6" y2="302.7" stroke="#222" stroke-width="0.9"/>
<text x="246.6" y="310.65" font-size="6.0" text-anchor="middle" fill="#222" stroke="#222" stroke-width="0.1">69</text>
<text transform="translate(150.8,321.9) scale(0.615,1)" font-size="8.2" font-weight="bold" text-anchor="middle" fill="#222">Months</text>
<text transform="translate(33.5,250.45) rotate(-90)" font-size="8.0" font-weight="bold" text-anchor="middle" textLength="71.9" lengthAdjust="spacingAndGlyphs" fill="#222">Cumulative hypertension rate</text>
<line x1="58.5" y1="217.6" x2="67.7" y2="217.6" stroke="#bd6a7a" stroke-width="1.1"/>
<line x1="58.5" y1="225.4" x2="67.7" y2="225.4" stroke="#5a74a0" stroke-width="1.1"/>
<circle cx="63.3" cy="233.3" r="1.1" fill="#111"/>
<text x="70.9" y="219.8" font-size="6.3" textLength="32.6" lengthAdjust="spacingAndGlyphs" fill="#222">Zanubrutinib</text>
<text x="70.9" y="227.6" font-size="6.3" textLength="21" lengthAdjust="spacingAndGlyphs" fill="#222">Ibrutinib</text>
<text x="71.1" y="235.4" font-size="6.3" textLength="24.8" lengthAdjust="spacingAndGlyphs" fill="#222">Censored</text>
<text x="20.75" y="332.5" font-size="5.8" font-weight="bold" fill="#111">No. of patients at risk</text>
<text x="8.8" y="341.7" font-size="6.2" font-weight="bold" textLength="35" lengthAdjust="spacingAndGlyphs" fill="#c42846">Zanubrutinib</text>
<text x="21.3" y="351.6" font-size="6.2" font-weight="bold" textLength="22.5" lengthAdjust="spacingAndGlyphs" fill="#2d5880">Ibrutinib</text>
<text x="50.1" y="341.7" font-size="5.9" text-anchor="middle" fill="#c42846" stroke="#c42846" stroke-width="0.12">101</text>
<text x="60.08" y="341.7" font-size="5.9" text-anchor="middle" fill="#c42846" stroke="#c42846" stroke-width="0.12">89</text>
<text x="68.56" y="341.7" font-size="5.9" text-anchor="middle" fill="#c42846" stroke="#c42846" stroke-width="0.12">87</text>
<text x="77.03" y="341.7" font-size="5.9" text-anchor="middle" fill="#c42846" stroke="#c42846" stroke-width="0.12">83</text>
<text x="85.51" y="341.7" font-size="5.9" text-anchor="middle" fill="#c42846" stroke="#c42846" stroke-width="0.12">80</text>
<text x="93.99" y="341.7" font-size="5.9" text-anchor="middle" fill="#c42846" stroke="#c42846" stroke-width="0.12">77</text>
<text x="102.47" y="341.7" font-size="5.9" text-anchor="middle" fill="#c42846" stroke="#c42846" stroke-width="0.12">75</text>
<text x="110.95" y="341.7" font-size="5.9" text-anchor="middle" fill="#c42846" stroke="#c42846" stroke-width="0.12">70</text>
<text x="119.43" y="341.7" font-size="5.9" text-anchor="middle" fill="#c42846" stroke="#c42846" stroke-width="0.12">68</text>
<text x="127.9" y="341.7" font-size="5.9" text-anchor="middle" fill="#c42846" stroke="#c42846" stroke-width="0.12">67</text>
<text x="136.38" y="341.7" font-size="5.9" text-anchor="middle" fill="#c42846" stroke="#c42846" stroke-width="0.12">65</text>
<text x="144.86" y="341.7" font-size="5.9" text-anchor="middle" fill="#c42846" stroke="#c42846" stroke-width="0.12">65</text>
<text x="153.34" y="341.7" font-size="5.9" text-anchor="middle" fill="#c42846" stroke="#c42846" stroke-width="0.12">61</text>
<text x="161.82" y="341.7" font-size="5.9" text-anchor="middle" fill="#c42846" stroke="#c42846" stroke-width="0.12">58</text>
<text x="170.3" y="341.7" font-size="5.9" text-anchor="middle" fill="#c42846" stroke="#c42846" stroke-width="0.12">57</text>
<text x="178.77" y="341.7" font-size="5.9" text-anchor="middle" fill="#c42846" stroke="#c42846" stroke-width="0.12">56</text>
<text x="187.25" y="341.7" font-size="5.9" text-anchor="middle" fill="#c42846" stroke="#c42846" stroke-width="0.12">56</text>
<text x="195.73" y="341.7" font-size="5.9" text-anchor="middle" fill="#c42846" stroke="#c42846" stroke-width="0.12">56</text>
<text x="204.21" y="341.7" font-size="5.9" text-anchor="middle" fill="#c42846" stroke="#c42846" stroke-width="0.12">42</text>
<text x="212.69" y="341.7" font-size="5.9" text-anchor="middle" fill="#c42846" stroke="#c42846" stroke-width="0.12">27</text>
<text x="221.17" y="341.7" font-size="5.9" text-anchor="middle" fill="#c42846" stroke="#c42846" stroke-width="0.12">13</text>
<text x="229.64" y="341.7" font-size="5.9" text-anchor="middle" fill="#c42846" stroke="#c42846" stroke-width="0.12">8</text>
<text x="238.12" y="341.7" font-size="5.9" text-anchor="middle" fill="#c42846" stroke="#c42846" stroke-width="0.12">2</text>
<text x="246.6" y="341.7" font-size="5.9" text-anchor="middle" fill="#c42846" stroke="#c42846" stroke-width="0.12">0</text>
<text x="51.6" y="351.6" font-size="5.9" text-anchor="middle" fill="#2d5880" stroke="#2d5880" stroke-width="0.12">98</text>
<text x="60.08" y="351.6" font-size="5.9" text-anchor="middle" fill="#2d5880" stroke="#2d5880" stroke-width="0.12">84</text>
<text x="68.56" y="351.6" font-size="5.9" text-anchor="middle" fill="#2d5880" stroke="#2d5880" stroke-width="0.12">80</text>
<text x="77.03" y="351.6" font-size="5.9" text-anchor="middle" fill="#2d5880" stroke="#2d5880" stroke-width="0.12">75</text>
<text x="85.51" y="351.6" font-size="5.9" text-anchor="middle" fill="#2d5880" stroke="#2d5880" stroke-width="0.12">71</text>
<text x="93.99" y="351.6" font-size="5.9" text-anchor="middle" fill="#2d5880" stroke="#2d5880" stroke-width="0.12">66</text>
<text x="102.47" y="351.6" font-size="5.9" text-anchor="middle" fill="#2d5880" stroke="#2d5880" stroke-width="0.12">64</text>
<text x="110.95" y="351.6" font-size="5.9" text-anchor="middle" fill="#2d5880" stroke="#2d5880" stroke-width="0.12">58</text>
<text x="119.43" y="351.6" font-size="5.9" text-anchor="middle" fill="#2d5880" stroke="#2d5880" stroke-width="0.12">52</text>
<text x="127.9" y="351.6" font-size="5.9" text-anchor="middle" fill="#2d5880" stroke="#2d5880" stroke-width="0.12">50</text>
<text x="136.38" y="351.6" font-size="5.9" text-anchor="middle" fill="#2d5880" stroke="#2d5880" stroke-width="0.12">47</text>
<text x="144.86" y="351.6" font-size="5.9" text-anchor="middle" fill="#2d5880" stroke="#2d5880" stroke-width="0.12">44</text>
<text x="153.34" y="351.6" font-size="5.9" text-anchor="middle" fill="#2d5880" stroke="#2d5880" stroke-width="0.12">43</text>
<text x="161.82" y="351.6" font-size="5.9" text-anchor="middle" fill="#2d5880" stroke="#2d5880" stroke-width="0.12">41</text>
<text x="170.3" y="351.6" font-size="5.9" text-anchor="middle" fill="#2d5880" stroke="#2d5880" stroke-width="0.12">39</text>
<text x="178.77" y="351.6" font-size="5.9" text-anchor="middle" fill="#2d5880" stroke="#2d5880" stroke-width="0.12">32</text>
<text x="187.25" y="351.6" font-size="5.9" text-anchor="middle" fill="#2d5880" stroke="#2d5880" stroke-width="0.12">28</text>
<text x="195.73" y="351.6" font-size="5.9" text-anchor="middle" fill="#2d5880" stroke="#2d5880" stroke-width="0.12">13</text>
<text x="204.21" y="351.6" font-size="5.9" text-anchor="middle" fill="#2d5880" stroke="#2d5880" stroke-width="0.12">4</text>
<text x="212.69" y="351.6" font-size="5.9" text-anchor="middle" fill="#2d5880" stroke="#2d5880" stroke-width="0.12">3</text>
<text x="221.17" y="351.6" font-size="5.9" text-anchor="middle" fill="#2d5880" stroke="#2d5880" stroke-width="0.12">0</text>
<path d="M51.6,299.4 H51.8 V298.5 H52.2 V294.5 H53.1 V291.4 H53.6 V289.1 H56.9 V282 H62 V281.6 H66 V280.2 H67.8 V279.3 H69.1 V278.5 H70.5 V276.2 H72.3 V274.5 H80.6 V271.2 H84.5 V270.6 H86.1 V268.4 H92.3 V265 H93.4 V262.3 H98.4 V258.9 H106.2 V253.4 H108.4 V252.8 H110.1 V252.2 H111.3 V246.4 H118 V243.3 H118.9 V239.5 H132.2 V235.7 H135.3 V233.4 H136.8 V231.8 H139.1 V228.8 H155.2 V226.5 H155.9 V225 H219.7" fill="none" stroke="#44638f" stroke-width="0.9" stroke-linejoin="miter"/>
<rect x="54.45" y="287.85" width="1.1" height="2.5" fill="#0f3566"/>
<rect x="59.45" y="280.75" width="1.1" height="2.5" fill="#0f3566"/>
<rect x="63.45" y="280.35" width="1.1" height="2.5" fill="#0f3566"/>
<rect x="76.45" y="273.25" width="1.1" height="2.5" fill="#0f3566"/>
<rect x="87.45" y="267.15" width="1.1" height="2.5" fill="#0f3566"/>
<rect x="95.45" y="261.05" width="1.1" height="2.5" fill="#0f3566"/>
<rect x="105.25" y="257.65" width="1.1" height="2.5" fill="#0f3566"/>
<rect x="109.25" y="251.55" width="1.1" height="2.5" fill="#0f3566"/>
<rect x="110.45" y="250.95" width="1.1" height="2.5" fill="#0f3566"/>
<rect x="116.15" y="245.15" width="1.1" height="2.5" fill="#0f3566"/>
<rect x="118.45" y="242.05" width="1.1" height="2.5" fill="#0f3566"/>
<rect x="125.95" y="238.25" width="1.1" height="2.5" fill="#0f3566"/>
<rect x="131.15" y="238.25" width="1.1" height="2.5" fill="#0f3566"/>
<rect x="149.45" y="227.55" width="1.1" height="2.5" fill="#0f3566"/>
<rect x="156.65" y="223.75" width="1.1" height="2.5" fill="#0f3566"/>
<rect x="160.25" y="223.75" width="1.1" height="2.5" fill="#0f3566"/>
<rect x="163.15" y="223.75" width="1.1" height="2.5" fill="#0f3566"/>
<rect x="166.75" y="223.75" width="1.1" height="2.5" fill="#0f3566"/>
<rect x="170.35" y="223.75" width="1.1" height="2.5" fill="#0f3566"/>
<rect x="172.55" y="223.75" width="1.1" height="2.5" fill="#0f3566"/>
<rect x="174.75" y="223.75" width="1.1" height="2.5" fill="#0f3566"/>
<rect x="176.85" y="223.75" width="1.1" height="2.5" fill="#0f3566"/>
<rect x="179.75" y="223.75" width="1.1" height="2.5" fill="#0f3566"/>
<rect x="182.65" y="223.75" width="1.1" height="2.5" fill="#0f3566"/>
<rect x="186.25" y="223.75" width="1.1" height="2.5" fill="#0f3566"/>
<rect x="187.55" y="223.75" width="1.1" height="2.5" fill="#0f3566"/>
<rect x="188.85" y="223.75" width="1.1" height="2.5" fill="#0f3566"/>
<rect x="190.15" y="223.75" width="1.1" height="2.5" fill="#0f3566"/>
<rect x="191.45" y="223.75" width="1.1" height="2.5" fill="#0f3566"/>
<rect x="192.75" y="223.75" width="1.1" height="2.5" fill="#0f3566"/>
<rect x="194.05" y="223.75" width="1.1" height="2.5" fill="#0f3566"/>
<rect x="195.45" y="223.75" width="1.1" height="2.5" fill="#0f3566"/>
<rect x="198.55" y="223.75" width="1.1" height="2.5" fill="#0f3566"/>
<rect x="200.65" y="223.75" width="1.1" height="2.5" fill="#0f3566"/>
<rect x="203.55" y="223.75" width="1.1" height="2.5" fill="#0f3566"/>
<rect x="212.25" y="223.75" width="1.1" height="2.5" fill="#0f3566"/>
<rect x="218.45" y="223.75" width="1.1" height="2.5" fill="#0f3566"/>
<path d="M51.6,299.4 H51.8 V296.5 H57.1 V291.4 H58.5 V289.6 H58.9 V285.1 H59.3 V282.5 H64.2 V281.1 H66.5 V279.8 H67.8 V278.9 H69.6 V277.6 H70.9 V275.3 H72.5 V274.2 H81.7 V272.3 H84.5 V271.7 H87.3 V271.2 H90.6 V269.5 H97.3 V268.9 H98.4 V267.3 H109 V264.4 H156.7 V261.2 H176.8 V257.2 H197.7 V253.6 H245.7" fill="none" stroke="#cf3048" stroke-width="0.9" stroke-linejoin="miter"/>
<rect x="53.45" y="295.25" width="1.1" height="2.5" fill="#a3122f"/>
<rect x="55.45" y="295.25" width="1.1" height="2.5" fill="#a3122f"/>
<rect x="60.45" y="281.25" width="1.1" height="2.5" fill="#a3122f"/>
<rect x="74.45" y="272.95" width="1.1" height="2.5" fill="#a3122f"/>
<rect x="77.45" y="272.95" width="1.1" height="2.5" fill="#a3122f"/>
<rect x="92.45" y="268.25" width="1.1" height="2.5" fill="#a3122f"/>
<rect x="102.95" y="266.05" width="1.1" height="2.5" fill="#a3122f"/>
<rect x="104.65" y="266.05" width="1.1" height="2.5" fill="#a3122f"/>
<rect x="109.05" y="263.15" width="1.1" height="2.5" fill="#a3122f"/>
<rect x="111.55" y="263.15" width="1.1" height="2.5" fill="#a3122f"/>
<rect x="116.75" y="263.15" width="1.1" height="2.5" fill="#a3122f"/>
<rect x="126.55" y="263.15" width="1.1" height="2.5" fill="#a3122f"/>
<rect x="129.45" y="263.15" width="1.1" height="2.5" fill="#a3122f"/>
<rect x="130.65" y="263.15" width="1.1" height="2.5" fill="#a3122f"/>
<rect x="147.95" y="263.15" width="1.1" height="2.5" fill="#a3122f"/>
<rect x="151.95" y="263.15" width="1.1" height="2.5" fill="#a3122f"/>
<rect x="154.85" y="263.15" width="1.1" height="2.5" fill="#a3122f"/>
<rect x="159.95" y="259.95" width="1.1" height="2.5" fill="#a3122f"/>
<rect x="161.75" y="259.95" width="1.1" height="2.5" fill="#a3122f"/>
<rect x="198.35" y="252.35" width="1.1" height="2.5" fill="#a3122f"/>
<rect x="201.05" y="252.35" width="1.1" height="2.5" fill="#a3122f"/>
<rect x="202.85" y="252.35" width="1.1" height="2.5" fill="#a3122f"/>
<rect x="205.65" y="252.35" width="1.1" height="2.5" fill="#a3122f"/>
<rect x="208.35" y="252.35" width="1.1" height="2.5" fill="#a3122f"/>
<rect x="210.25" y="252.35" width="1.1" height="2.5" fill="#a3122f"/>
<rect x="212.05" y="252.35" width="1.1" height="2.5" fill="#a3122f"/>
<rect x="213.85" y="252.35" width="1.1" height="2.5" fill="#a3122f"/>
<rect x="215.65" y="252.35" width="1.1" height="2.5" fill="#a3122f"/>
<rect x="217.55" y="252.35" width="1.1" height="2.5" fill="#a3122f"/>
<rect x="219.35" y="252.35" width="1.1" height="2.5" fill="#a3122f"/>
<rect x="225.75" y="252.35" width="1.1" height="2.5" fill="#a3122f"/>
<rect x="228.45" y="252.35" width="1.1" height="2.5" fill="#a3122f"/>
<rect x="231.25" y="252.35" width="1.1" height="2.5" fill="#a3122f"/>
<rect x="234.85" y="252.35" width="1.1" height="2.5" fill="#a3122f"/>
<rect x="237.65" y="252.35" width="1.1" height="2.5" fill="#a3122f"/>
<rect x="244.95" y="252.35" width="1.1" height="2.5" fill="#a3122f"/>
<text x="270.4" y="193.9" font-size="11.1" font-weight="bold" fill="#000" stroke="#000" stroke-width="0.3">D</text>
<text x="413.8" y="197.4" font-size="8.0" text-anchor="middle" fill="#111" stroke="#111" stroke-width="0.15">ALPINE (CLL/SLL)</text>
<line x1="315.45" y1="299.9" x2="315.45" y2="202.7" stroke="#222" stroke-width="1"/>
<line x1="312.65" y1="299.4" x2="512.5" y2="299.4" stroke="#222" stroke-width="1"/>
<line x1="312.65" y1="299.4" x2="315.45" y2="299.4" stroke="#222" stroke-width="0.9"/>
<text x="309.55" y="301.5" font-size="6.0" text-anchor="end" fill="#222" stroke="#222" stroke-width="0.1">0</text>
<line x1="312.65" y1="275.9" x2="315.45" y2="275.9" stroke="#222" stroke-width="0.9"/>
<text x="309.55" y="278" font-size="6.0" text-anchor="end" fill="#222" stroke="#222" stroke-width="0.1">10</text>
<line x1="312.65" y1="252.4" x2="315.45" y2="252.4" stroke="#222" stroke-width="0.9"/>
<text x="309.55" y="254.5" font-size="6.0" text-anchor="end" fill="#222" stroke="#222" stroke-width="0.1">20</text>
<line x1="312.65" y1="228.9" x2="315.45" y2="228.9" stroke="#222" stroke-width="0.9"/>
<text x="309.55" y="231" font-size="6.0" text-anchor="end" fill="#222" stroke="#222" stroke-width="0.1">30</text>
<line x1="312.65" y1="205.4" x2="315.45" y2="205.4" stroke="#222" stroke-width="0.9"/>
<text x="309.55" y="207.5" font-size="6.0" text-anchor="end" fill="#222" stroke="#222" stroke-width="0.1">40</text>
<line x1="315.45" y1="299.4" x2="315.45" y2="302.7" stroke="#222" stroke-width="0.9"/>
<text x="315.45" y="310.65" font-size="6.0" text-anchor="middle" fill="#222" stroke="#222" stroke-width="0.1">0</text>
<line x1="327.6" y1="299.4" x2="327.6" y2="302.7" stroke="#222" stroke-width="0.9"/>
<text x="327.6" y="310.65" font-size="6.0" text-anchor="middle" fill="#222" stroke="#222" stroke-width="0.1">3</text>
<line x1="339.75" y1="299.4" x2="339.75" y2="302.7" stroke="#222" stroke-width="0.9"/>
<text x="339.75" y="310.65" font-size="6.0" text-anchor="middle" fill="#222" stroke="#222" stroke-width="0.1">6</text>
<line x1="351.9" y1="299.4" x2="351.9" y2="302.7" stroke="#222" stroke-width="0.9"/>
<text x="351.9" y="310.65" font-size="6.0" text-anchor="middle" fill="#222" stroke="#222" stroke-width="0.1">9</text>
<line x1="364.05" y1="299.4" x2="364.05" y2="302.7" stroke="#222" stroke-width="0.9"/>
<text x="364.05" y="310.65" font-size="6.0" text-anchor="middle" fill="#222" stroke="#222" stroke-width="0.1">12</text>
<line x1="376.2" y1="299.4" x2="376.2" y2="302.7" stroke="#222" stroke-width="0.9"/>
<text x="376.2" y="310.65" font-size="6.0" text-anchor="middle" fill="#222" stroke="#222" stroke-width="0.1">15</text>
<line x1="388.35" y1="299.4" x2="388.35" y2="302.7" stroke="#222" stroke-width="0.9"/>
<text x="388.35" y="310.65" font-size="6.0" text-anchor="middle" fill="#222" stroke="#222" stroke-width="0.1">18</text>
<line x1="400.5" y1="299.4" x2="400.5" y2="302.7" stroke="#222" stroke-width="0.9"/>
<text x="400.5" y="310.65" font-size="6.0" text-anchor="middle" fill="#222" stroke="#222" stroke-width="0.1">21</text>
<line x1="412.65" y1="299.4" x2="412.65" y2="302.7" stroke="#222" stroke-width="0.9"/>
<text x="412.65" y="310.65" font-size="6.0" text-anchor="middle" fill="#222" stroke="#222" stroke-width="0.1">24</text>
<line x1="424.8" y1="299.4" x2="424.8" y2="302.7" stroke="#222" stroke-width="0.9"/>
<text x="424.8" y="310.65" font-size="6.0" text-anchor="middle" fill="#222" stroke="#222" stroke-width="0.1">27</text>
<line x1="436.95" y1="299.4" x2="436.95" y2="302.7" stroke="#222" stroke-width="0.9"/>
<text x="436.95" y="310.65" font-size="6.0" text-anchor="middle" fill="#222" stroke="#222" stroke-width="0.1">30</text>
<line x1="449.1" y1="299.4" x2="449.1" y2="302.7" stroke="#222" stroke-width="0.9"/>
<text x="449.1" y="310.65" font-size="6.0" text-anchor="middle" fill="#222" stroke="#222" stroke-width="0.1">33</text>
<line x1="461.25" y1="299.4" x2="461.25" y2="302.7" stroke="#222" stroke-width="0.9"/>
<text x="461.25" y="310.65" font-size="6.0" text-anchor="middle" fill="#222" stroke="#222" stroke-width="0.1">36</text>
<line x1="473.4" y1="299.4" x2="473.4" y2="302.7" stroke="#222" stroke-width="0.9"/>
<text x="473.4" y="310.65" font-size="6.0" text-anchor="middle" fill="#222" stroke="#222" stroke-width="0.1">39</text>
<line x1="485.55" y1="299.4" x2="485.55" y2="302.7" stroke="#222" stroke-width="0.9"/>
<text x="485.55" y="310.65" font-size="6.0" text-anchor="middle" fill="#222" stroke="#222" stroke-width="0.1">42</text>
<line x1="497.7" y1="299.4" x2="497.7" y2="302.7" stroke="#222" stroke-width="0.9"/>
<text x="497.7" y="310.65" font-size="6.0" text-anchor="middle" fill="#222" stroke="#222" stroke-width="0.1">45</text>
<line x1="509.85" y1="299.4" x2="509.85" y2="302.7" stroke="#222" stroke-width="0.9"/>
<text x="509.85" y="310.65" font-size="6.0" text-anchor="middle" fill="#222" stroke="#222" stroke-width="0.1">48</text>
<text transform="translate(414.6,321.9) scale(0.615,1)" font-size="8.2" font-weight="bold" text-anchor="middle" fill="#222">Months</text>
<text transform="translate(297.3,250.6) rotate(-90)" font-size="8.0" font-weight="bold" text-anchor="middle" textLength="72" lengthAdjust="spacingAndGlyphs" fill="#222">Cumulative hypertension rate</text>
<line x1="322.3" y1="217.6" x2="331.5" y2="217.6" stroke="#bd6a7a" stroke-width="1.1"/>
<line x1="322.3" y1="225.4" x2="331.5" y2="225.4" stroke="#5a74a0" stroke-width="1.1"/>
<circle cx="327.1" cy="233.3" r="1.1" fill="#111"/>
<text x="334.7" y="219.8" font-size="6.3" textLength="32.6" lengthAdjust="spacingAndGlyphs" fill="#222">Zanubrutinib</text>
<text x="334.7" y="227.6" font-size="6.3" textLength="21" lengthAdjust="spacingAndGlyphs" fill="#222">Ibrutinib</text>
<text x="334.9" y="235.4" font-size="6.3" textLength="24.8" lengthAdjust="spacingAndGlyphs" fill="#222">Censored</text>
<text x="284.55" y="332.5" font-size="5.8" font-weight="bold" fill="#111">No. of patients at risk</text>
<text x="272.6" y="341.7" font-size="6.2" font-weight="bold" textLength="35" lengthAdjust="spacingAndGlyphs" fill="#c42846">Zanubrutinib</text>
<text x="285.1" y="351.6" font-size="6.2" font-weight="bold" textLength="22.5" lengthAdjust="spacingAndGlyphs" fill="#2d5880">Ibrutinib</text>
<text x="315.45" y="341.7" font-size="5.9" text-anchor="middle" fill="#c42846" stroke="#c42846" stroke-width="0.12">324</text>
<text x="327.6" y="341.7" font-size="5.9" text-anchor="middle" fill="#c42846" stroke="#c42846" stroke-width="0.12">296</text>
<text x="339.75" y="341.7" font-size="5.9" text-anchor="middle" fill="#c42846" stroke="#c42846" stroke-width="0.12">280</text>
<text x="351.9" y="341.7" font-size="5.9" text-anchor="middle" fill="#c42846" stroke="#c42846" stroke-width="0.12">263</text>
<text x="364.05" y="341.7" font-size="5.9" text-anchor="middle" fill="#c42846" stroke="#c42846" stroke-width="0.12">248</text>
<text x="376.2" y="341.7" font-size="5.9" text-anchor="middle" fill="#c42846" stroke="#c42846" stroke-width="0.12">233</text>
<text x="388.35" y="341.7" font-size="5.9" text-anchor="middle" fill="#c42846" stroke="#c42846" stroke-width="0.12">221</text>
<text x="400.5" y="341.7" font-size="5.9" text-anchor="middle" fill="#c42846" stroke="#c42846" stroke-width="0.12">204</text>
<text x="412.65" y="341.7" font-size="5.9" text-anchor="middle" fill="#c42846" stroke="#c42846" stroke-width="0.12">157</text>
<text x="424.8" y="341.7" font-size="5.9" text-anchor="middle" fill="#c42846" stroke="#c42846" stroke-width="0.12">132</text>
<text x="436.95" y="341.7" font-size="5.9" text-anchor="middle" fill="#c42846" stroke="#c42846" stroke-width="0.12">115</text>
<text x="449.1" y="341.7" font-size="5.9" text-anchor="middle" fill="#c42846" stroke="#c42846" stroke-width="0.12">85</text>
<text x="461.25" y="341.7" font-size="5.9" text-anchor="middle" fill="#c42846" stroke="#c42846" stroke-width="0.12">35</text>
<text x="473.4" y="341.7" font-size="5.9" text-anchor="middle" fill="#c42846" stroke="#c42846" stroke-width="0.12">6</text>
<text x="485.55" y="341.7" font-size="5.9" text-anchor="middle" fill="#c42846" stroke="#c42846" stroke-width="0.12">0</text>
<text x="315.45" y="351.6" font-size="5.9" text-anchor="middle" fill="#2d5880" stroke="#2d5880" stroke-width="0.12">324</text>
<text x="327.6" y="351.6" font-size="5.9" text-anchor="middle" fill="#2d5880" stroke="#2d5880" stroke-width="0.12">281</text>
<text x="339.75" y="351.6" font-size="5.9" text-anchor="middle" fill="#2d5880" stroke="#2d5880" stroke-width="0.12">254</text>
<text x="351.9" y="351.6" font-size="5.9" text-anchor="middle" fill="#2d5880" stroke="#2d5880" stroke-width="0.12">232</text>
<text x="364.05" y="351.6" font-size="5.9" text-anchor="middle" fill="#2d5880" stroke="#2d5880" stroke-width="0.12">222</text>
<text x="376.2" y="351.6" font-size="5.9" text-anchor="middle" fill="#2d5880" stroke="#2d5880" stroke-width="0.12">208</text>
<text x="388.35" y="351.6" font-size="5.9" text-anchor="middle" fill="#2d5880" stroke="#2d5880" stroke-width="0.12">186</text>
<text x="400.5" y="351.6" font-size="5.9" text-anchor="middle" fill="#2d5880" stroke="#2d5880" stroke-width="0.12">166</text>
<text x="412.65" y="351.6" font-size="5.9" text-anchor="middle" fill="#2d5880" stroke="#2d5880" stroke-width="0.12">129</text>
<text x="424.8" y="351.6" font-size="5.9" text-anchor="middle" fill="#2d5880" stroke="#2d5880" stroke-width="0.12">98</text>
<text x="436.95" y="351.6" font-size="5.9" text-anchor="middle" fill="#2d5880" stroke="#2d5880" stroke-width="0.12">84</text>
<text x="449.1" y="351.6" font-size="5.9" text-anchor="middle" fill="#2d5880" stroke="#2d5880" stroke-width="0.12">66</text>
<text x="461.25" y="351.6" font-size="5.9" text-anchor="middle" fill="#2d5880" stroke="#2d5880" stroke-width="0.12">28</text>
<text x="473.4" y="351.6" font-size="5.9" text-anchor="middle" fill="#2d5880" stroke="#2d5880" stroke-width="0.12">3</text>
<text x="485.55" y="351.6" font-size="5.9" text-anchor="middle" fill="#2d5880" stroke="#2d5880" stroke-width="0.12">2</text>
<text x="497.7" y="351.6" font-size="5.9" text-anchor="middle" fill="#2d5880" stroke="#2d5880" stroke-width="0.12">1</text>
<text x="509.85" y="351.6" font-size="5.9" text-anchor="middle" fill="#2d5880" stroke="#2d5880" stroke-width="0.12">0</text>
<path d="M315.6,299.4 L316,294.3 H317.9 V290.3 H318.9 V289.35 H319.9 V288.4 H320.9 V287.4 H321.9 V286.4 H323.8 V283.8 H325.1 V282.5 H326.4 V281.2 H327.4 V280.55 H328.4 V279.9 H329.7 V279.2 L330.4,274.6 H331.7 V273.95 H333 V273.3 H334.3 V272.67 H335.6 V272.03 H336.9 V271.4 H338 V270.97 H339.1 V270.53 H340.2 V270.1 H341.3 V269.2 H342.4 V268.3 H343.5 V267.4 L348.7,267.4 L349.3,262.2 L353.3,262.2 H354.6 V261.77 H355.9 V261.33 H357.2 V260.9 H358.5 V260.47 H359.8 V260.03 H361.1 V259.6 L368.1,259.4 H369.35 V258.2 H370.6 V257 H372.2 V256.35 H373.8 V255.7 H375.04 V255.58 H376.28 V255.46 H377.52 V255.34 H378.76 V255.22 H380 V255.1 H381.9 V253.2 H383.8 V251.3 L392.6,251.3 L393.8,248.2 H395.7 V245.7 H397.17 V245.27 H398.63 V244.83 H400.1 V244.4 H401.35 V243.78 H402.6 V243.15 H403.85 V242.53 H405.1 V241.9 H406.36 V241.78 H407.62 V241.66 H408.88 V241.54 H410.14 V241.42 H411.4 V241.3 H412.63 V241.1 H413.87 V240.9 H415.1 V240.7 H416.23 V240.13 H417.37 V239.57 H418.5 V239 H419.93 V238.88 H421.35 V238.75 H422.77 V238.62 H424.2 V238.5 L435.8,238.5 H436.95 V236.75 H438.1 V235 H439.4 V234.93 H440.7 V234.85 H442 V234.78 H443.3 V234.7 H444.6 V234.62 H445.9 V234.55 H447.2 V234.47 H448.5 V234.4 L449,229.6 L477.8,229.6" fill="none" stroke="#1f4f8a" stroke-width="1.3" stroke-linejoin="miter"/>
<line x1="477.8" y1="229.6" x2="497.7" y2="229.6" stroke="#7d8590" stroke-width="0.9"/>
<rect x="317.75" y="288.53" width="1.5" height="2.4" fill="#0f3566"/>
<rect x="320.25" y="286.1" width="1.5" height="2.4" fill="#0f3566"/>
<rect x="322.25" y="283.69" width="1.5" height="2.4" fill="#0f3566"/>
<rect x="325.25" y="280.4" width="1.5" height="2.4" fill="#0f3566"/>
<rect x="327.25" y="278.96" width="1.5" height="2.4" fill="#0f3566"/>
<rect x="330.25" y="273.1" width="1.5" height="2.4" fill="#0f3566"/>
<rect x="333.25" y="271.61" width="1.5" height="2.4" fill="#0f3566"/>
<rect x="337.25" y="269.77" width="1.5" height="2.4" fill="#0f3566"/>
<rect x="340.25" y="268.25" width="1.5" height="2.4" fill="#0f3566"/>
<rect x="344.25" y="266.2" width="1.5" height="2.4" fill="#0f3566"/>
<rect x="346.25" y="266.2" width="1.5" height="2.4" fill="#0f3566"/>
<rect x="350.25" y="261" width="1.5" height="2.4" fill="#0f3566"/>
<rect x="354.25" y="260.43" width="1.5" height="2.4" fill="#0f3566"/>
<rect x="358.25" y="259.1" width="1.5" height="2.4" fill="#0f3566"/>
<rect x="362.25" y="258.35" width="1.5" height="2.4" fill="#0f3566"/>
<rect x="365.25" y="258.26" width="1.5" height="2.4" fill="#0f3566"/>
<rect x="371.25" y="255.23" width="1.5" height="2.4" fill="#0f3566"/>
<rect x="376.25" y="254.19" width="1.5" height="2.4" fill="#0f3566"/>
<rect x="380.25" y="252.9" width="1.5" height="2.4" fill="#0f3566"/>
<rect x="385.25" y="250.1" width="1.5" height="2.4" fill="#0f3566"/>
<rect x="388.25" y="250.1" width="1.5" height="2.4" fill="#0f3566"/>
<rect x="390.25" y="250.1" width="1.5" height="2.4" fill="#0f3566"/>
<rect x="396.25" y="244.12" width="1.5" height="2.4" fill="#0f3566"/>
<rect x="401.25" y="242.25" width="1.5" height="2.4" fill="#0f3566"/>
<rect x="407.25" y="240.42" width="1.5" height="2.4" fill="#0f3566"/>
<rect x="412.25" y="239.84" width="1.5" height="2.4" fill="#0f3566"/>
<rect x="416.25" y="238.55" width="1.5" height="2.4" fill="#0f3566"/>
<rect x="420.25" y="237.58" width="1.5" height="2.4" fill="#0f3566"/>
<rect x="427.25" y="237.3" width="1.5" height="2.4" fill="#0f3566"/>
<rect x="431.25" y="237.3" width="1.5" height="2.4" fill="#0f3566"/>
<rect x="436.25" y="235.47" width="1.5" height="2.4" fill="#0f3566"/>
<rect x="440.25" y="233.63" width="1.5" height="2.4" fill="#0f3566"/>
<rect x="444.25" y="233.4" width="1.5" height="2.4" fill="#0f3566"/>
<rect x="449.25" y="228.4" width="1.5" height="2.4" fill="#0f3566"/>
<rect x="450.75" y="228.4" width="1.5" height="2.4" fill="#0f3566"/>
<rect x="452.25" y="228.4" width="1.5" height="2.4" fill="#0f3566"/>
<rect x="453.75" y="228.4" width="1.5" height="2.4" fill="#0f3566"/>
<rect x="455.25" y="228.4" width="1.5" height="2.4" fill="#0f3566"/>
<rect x="456.75" y="228.4" width="1.5" height="2.4" fill="#0f3566"/>
<rect x="458.25" y="228.4" width="1.5" height="2.4" fill="#0f3566"/>
<rect x="459.75" y="228.4" width="1.5" height="2.4" fill="#0f3566"/>
<rect x="461.25" y="228.4" width="1.5" height="2.4" fill="#0f3566"/>
<rect x="462.75" y="228.4" width="1.5" height="2.4" fill="#0f3566"/>
<rect x="464.25" y="228.4" width="1.5" height="2.4" fill="#0f3566"/>
<rect x="465.75" y="228.4" width="1.5" height="2.4" fill="#0f3566"/>
<rect x="468.65" y="228.4" width="1.5" height="2.4" fill="#0f3566"/>
<rect x="471.55" y="228.4" width="1.5" height="2.4" fill="#0f3566"/>
<rect x="476.75" y="228.4" width="1.5" height="2.4" fill="#0f3566"/>
<rect x="496.95" y="228.4" width="1.5" height="2.4" fill="#0f3566"/>
<path d="M315.6,299.4 L316,295 H317.9 V293 H319.2 V291.65 H320.5 V290.3 H321.85 V289 H323.2 V287.7 H324.5 V286.1 H325.8 V284.5 H327.1 V283.8 H328.4 V283.1 H329.7 V282.47 H331 V281.83 H332.3 V281.2 H333.63 V280.77 H334.97 V280.33 H336.3 V279.9 H337.6 V279.47 H338.9 V279.03 H340.2 V278.6 H341.5 V278.17 H342.8 V277.73 H344.1 V277.3 H345.2 V276.83 H346.3 V276.37 H347.4 V275.9 H349.3 V270.7 H350.65 V270.05 H352 V269.4 H353.3 V268.73 H354.6 V268.07 H355.9 V267.4 H357.2 V266.77 H358.5 V266.13 H359.8 V265.5 H360.9 V264.53 H362 V263.57 H363.1 V262.6 H364.57 V262.17 H366.03 V261.73 H367.5 V261.3 H368.77 V260.07 H370.03 V258.83 H371.3 V257.6 H372.53 V257.17 H373.77 V256.73 H375 V256.3 H376.43 V256 H377.85 V255.7 H379.27 V255.4 H380.7 V255.1 H382.5 V253.2 H383.75 V252.9 H385 V252.6 L391.3,252.6 L395.1,252.3 H396.35 V252.05 H397.6 V251.8 H398.85 V251.55 H400.1 V251.3 H401.35 V250.35 H402.6 V249.4 H403.85 V247.55 H405.1 V245.7 H406.35 V245.38 H407.6 V245.05 H408.85 V244.72 H410.1 V244.4 H411.37 V243.57 H412.63 V242.73 H413.9 V241.9 H415.32 V241.18 H416.75 V240.45 H418.18 V239.72 H419.6 V239 L426.5,239 H427.95 V238.72 H429.4 V238.45 H430.85 V238.18 H432.3 V237.9 H433.75 V237.32 H435.2 V236.75 H436.65 V236.18 H438.1 V235.6 L445,235.6 H446.33 V235.2 H447.67 V234.8 H449 V234.4 L449.6,233.1 L483.6,233.1" fill="none" stroke="#cc2240" stroke-width="1.3" stroke-linejoin="miter"/>
<rect x="318.25" y="290.66" width="1.5" height="2.4" fill="#a3122f"/>
<rect x="321.25" y="287.66" width="1.5" height="2.4" fill="#a3122f"/>
<rect x="326.25" y="282.65" width="1.5" height="2.4" fill="#a3122f"/>
<rect x="329.25" y="281.12" width="1.5" height="2.4" fill="#a3122f"/>
<rect x="334.25" y="279.12" width="1.5" height="2.4" fill="#a3122f"/>
<rect x="338.25" y="277.8" width="1.5" height="2.4" fill="#a3122f"/>
<rect x="342.25" y="276.47" width="1.5" height="2.4" fill="#a3122f"/>
<rect x="345.25" y="275.29" width="1.5" height="2.4" fill="#a3122f"/>
<rect x="350.25" y="268.68" width="1.5" height="2.4" fill="#a3122f"/>
<rect x="353.25" y="267.17" width="1.5" height="2.4" fill="#a3122f"/>
<rect x="357.25" y="265.18" width="1.5" height="2.4" fill="#a3122f"/>
<rect x="361.25" y="262.37" width="1.5" height="2.4" fill="#a3122f"/>
<rect x="365.25" y="260.54" width="1.5" height="2.4" fill="#a3122f"/>
<rect x="369.25" y="257.67" width="1.5" height="2.4" fill="#a3122f"/>
<rect x="373.25" y="255.45" width="1.5" height="2.4" fill="#a3122f"/>
<rect x="377.25" y="254.47" width="1.5" height="2.4" fill="#a3122f"/>
<rect x="383.25" y="251.64" width="1.5" height="2.4" fill="#a3122f"/>
<rect x="387.25" y="251.4" width="1.5" height="2.4" fill="#a3122f"/>
<rect x="393.25" y="251.19" width="1.5" height="2.4" fill="#a3122f"/>
<rect x="397.25" y="250.52" width="1.5" height="2.4" fill="#a3122f"/>
<rect x="403.25" y="246.13" width="1.5" height="2.4" fill="#a3122f"/>
<rect x="407.25" y="243.75" width="1.5" height="2.4" fill="#a3122f"/>
<rect x="411.25" y="241.95" width="1.5" height="2.4" fill="#a3122f"/>
<rect x="416.25" y="239.12" width="1.5" height="2.4" fill="#a3122f"/>
<rect x="423.25" y="237.8" width="1.5" height="2.4" fill="#a3122f"/>
<rect x="429.25" y="237.14" width="1.5" height="2.4" fill="#a3122f"/>
<rect x="434.25" y="235.63" width="1.5" height="2.4" fill="#a3122f"/>
<rect x="440.25" y="234.4" width="1.5" height="2.4" fill="#a3122f"/>
<rect x="445.25" y="234.1" width="1.5" height="2.4" fill="#a3122f"/>
<rect x="449.25" y="231.9" width="1.5" height="2.4" fill="#a3122f"/>
<rect x="450.75" y="231.9" width="1.5" height="2.4" fill="#a3122f"/>
<rect x="452.25" y="231.9" width="1.5" height="2.4" fill="#a3122f"/>
<rect x="453.75" y="231.9" width="1.5" height="2.4" fill="#a3122f"/>
<rect x="455.25" y="231.9" width="1.5" height="2.4" fill="#a3122f"/>
<rect x="456.75" y="231.9" width="1.5" height="2.4" fill="#a3122f"/>
<rect x="458.25" y="231.9" width="1.5" height="2.4" fill="#a3122f"/>
<rect x="459.75" y="231.9" width="1.5" height="2.4" fill="#a3122f"/>
<rect x="461.25" y="231.9" width="1.5" height="2.4" fill="#a3122f"/>
<rect x="462.75" y="231.9" width="1.5" height="2.4" fill="#a3122f"/>
<rect x="464.25" y="231.9" width="1.5" height="2.4" fill="#a3122f"/>
<rect x="465.75" y="231.9" width="1.5" height="2.4" fill="#a3122f"/>
<rect x="467.25" y="231.9" width="1.5" height="2.4" fill="#a3122f"/>
<rect x="468.75" y="231.9" width="1.5" height="2.4" fill="#a3122f"/>
<rect x="470.25" y="231.9" width="1.5" height="2.4" fill="#a3122f"/>
<rect x="471.75" y="231.9" width="1.5" height="2.4" fill="#a3122f"/>
<rect x="473.25" y="231.9" width="1.5" height="2.4" fill="#a3122f"/>
<rect x="476.15" y="231.9" width="1.5" height="2.4" fill="#a3122f"/>
<rect x="479.05" y="231.9" width="1.5" height="2.4" fill="#a3122f"/>
<rect x="482.85" y="231.9" width="1.5" height="2.4" fill="#a3122f"/>
</svg>
<div class="bd"></div>
</body></html>
